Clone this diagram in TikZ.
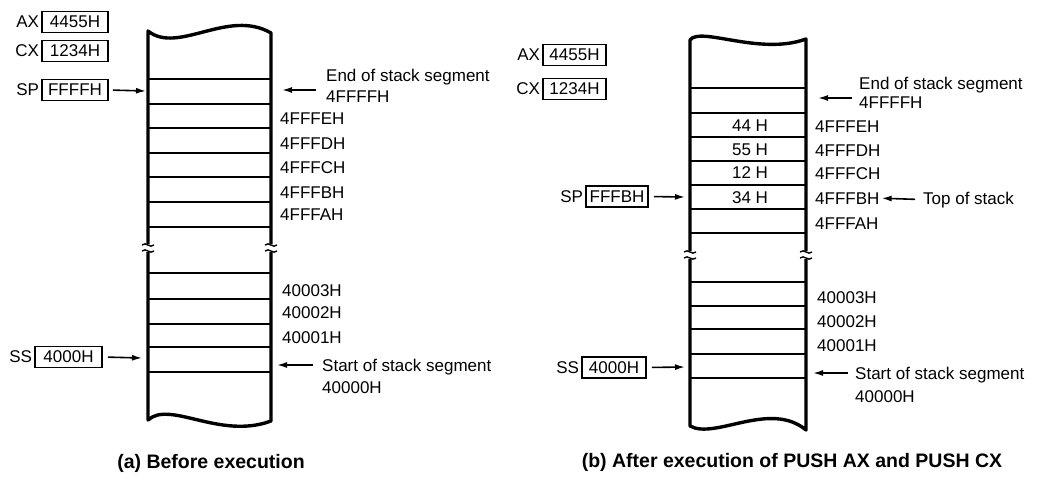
\documentclass[tikz,border=0pt]{standalone}
\usepackage{fontspec}
\setmainfont{Liberation Sans}
\usetikzlibrary{arrows.meta}
\begin{document}
\begin{tikzpicture}[x=1pt,y=-1pt,
  wall/.style={line width=3.4pt,line join=round},
  cell/.style={line width=1.8pt},
  brk/.style={line width=1.4pt},
  regbox/.style={draw,line width=1.6pt,minimum height=21pt,inner sep=0pt,font=\fontsize{17}{19}\selectfont},
  reg/.style={inner sep=0pt,anchor=east,font=\fontsize{17}{19}\selectfont},
  lbl/.style={inner sep=0pt,anchor=base west,font=\fontsize{17}{19}\selectfont},
  val/.style={inner sep=0pt,font=\fontsize{17}{19}\selectfont},
  arr/.style={line width=1.6pt,-{Latex[length=10pt,width=6pt]}},
  capt/.style={inner sep=0pt,font=\bfseries\fontsize{19.5}{22}\selectfont}
]
\useasboundingbox[fill=white] (0,0) rectangle (1051,482);

% ---------- (a) stack outline ----------
\draw[wall] (148,244) -- (148,31) .. controls (178,55) and (228,8) .. (271,33) -- (271,244);
\draw[wall] (148,252) -- (148,420) .. controls (170,400) and (220,440) .. (271,421) -- (271,252);
\foreach \x in {148,271}{
  \draw[brk] (\x-6,245) .. controls (\x-2,241) and (\x+2,249) .. (\x+6,245);
  \draw[brk] (\x-6,251) .. controls (\x-2,247) and (\x+2,255) .. (\x+6,251);
}
\foreach \y in {79,104,128,153,177,202,227,273,299,324,347,372}
  \draw[cell] (148,\y) -- (271,\y);

% registers (a)
\node[regbox,minimum width=66pt] (axa) at (75,22) {4455H};
\node[regbox,minimum width=66pt] (cxa) at (75,51) {1234H};
\node[regbox,minimum width=66pt] (spa) at (75,90) {FFFFH};
\node[regbox,minimum width=67pt] (ssa) at (68.5,357) {4000H};
\node[reg] (axal) at ([xshift=-2pt]axa.west) {AX};
\node[reg] (cxal) at ([xshift=-2pt]cxa.west) {CX};
\node[reg] (spal) at ([xshift=-2pt]spa.west) {SP};
\node[reg] (ssal) at ([xshift=-2pt]ssa.west) {SS};
\coordinate (spaT) at (146,91);
\coordinate (ssaT) at (142,358);
\draw[arr,shorten <=4pt] (spa.east) -- (spaT);
\draw[arr,shorten <=5pt] (ssa.east) -- (ssaT);

% labels (a)
\node[lbl] (enda) at (326,81) {End of stack segment};
\node[lbl] (ffffa) at (326,102) {4FFFFH};
\coordinate (endaS) at (316,90);
\coordinate (endaT) at (282,90);
\draw[arr] (endaS) -- (endaT);
\node[lbl] (a1) at (280,124) {4FFFEH};
\node[lbl] (a2) at (280,149) {4FFFDH};
\node[lbl] (a3) at (280,173) {4FFFCH};
\node[lbl] (a4) at (280,198) {4FFFBH};
\node[lbl] (a5) at (280,220) {4FFFAH};
\node[lbl] (a6) at (282,296) {40003H};
\node[lbl] (a7) at (282,318) {40002H};
\node[lbl] (a8) at (282,343) {40001H};
\node[lbl] (starta) at (322,371) {Start of stack segment};
\node[lbl] (zeroa) at (322,393) {40000H};
\coordinate (startaS) at (313,365);
\coordinate (startaT) at (277,365);
\draw[arr] (startaS) -- (startaT);
\node[capt] (capa) at (211,463) {(a) Before execution};

% ---------- (b) stack outline ----------
\draw[wall] (690,251) -- (690,40) .. controls (700,26) and (760,56) .. (806,39) -- (806,251);
\draw[wall] (690,259) -- (690,426) .. controls (715,440) and (770,400) .. (806,430) -- (806,259);
\foreach \x in {690,806}{
  \draw[brk] (\x-6,252) .. controls (\x-2,248) and (\x+2,256) .. (\x+6,252);
  \draw[brk] (\x-6,258) .. controls (\x-2,254) and (\x+2,262) .. (\x+6,258);
}
\foreach \y in {88,113,137,161,185,209,233,282,306,329,354,378}
  \draw[cell] (690,\y) -- (806,\y);

% cell values (b)
\node[val] (v1) at (750,126) {44 H};
\node[val] (v2) at (750,150) {55 H};
\node[val] (v3) at (750,173) {12 H};
\node[val] (v4) at (750,198) {34 H};

% registers (b)
\node[regbox,minimum width=63pt] (axb) at (574.5,55) {4455H};
\node[regbox,minimum width=63pt] (cxb) at (574.5,89) {1234H};
\node[regbox,minimum width=62pt] (spb) at (617,196.5) {FFFBH};
\node[regbox,minimum width=64pt] (ssb) at (614,367.5) {4000H};
\node[reg] (axbl) at ([xshift=-2pt]axb.west) {AX};
\node[reg] (cxbl) at ([xshift=-2pt]cxb.west) {CX};
\node[reg] (spbl) at ([xshift=-2pt]spb.west) {SP};
\node[reg] (ssbl) at ([xshift=-2pt]ssb.west) {SS};
\coordinate (spbT) at (685,197);
\coordinate (ssbT) at (685,367);
\draw[arr,shorten <=5pt] (spb.east) -- (spbT);
\draw[arr,shorten <=5pt] (ssb.east) -- (ssbT);

% labels (b)
\node[lbl] (endb) at (859,89) {End of stack segment};
\node[lbl] (ffffb) at (859,108) {4FFFFH};
\coordinate (endbS) at (852,98);
\coordinate (endbT) at (818,98);
\draw[arr] (endbS) -- (endbT);
\node[lbl] (b1) at (815,132) {4FFFEH};
\node[lbl] (b2) at (815,156) {4FFFDH};
\node[lbl] (b3) at (815,179) {4FFFCH};
\node[lbl] (b4) at (815,204) {4FFFBH};
\node[lbl] (b5) at (815,229) {4FFFAH};
\node[lbl] (tos) at (923,204) {Top of stack};
\draw[arr,shorten <=8pt,shorten >=2pt] (tos.west) -- (b4.east);
\node[lbl] (b6) at (817,303) {40003H};
\node[lbl] (b7) at (817,327) {40002H};
\node[lbl] (b8) at (817,351) {40001H};
\node[lbl] (startb) at (855,379) {Start of stack segment};
\node[lbl] (zerob) at (855,402) {40000H};
\coordinate (startbS) at (848,373);
\coordinate (startbT) at (813,373);
\draw[arr] (startbS) -- (startbT);
\node[capt] (capb) at (792,462) {(b) After execution of PUSH AX and PUSH CX};
\end{tikzpicture}
\end{document}
